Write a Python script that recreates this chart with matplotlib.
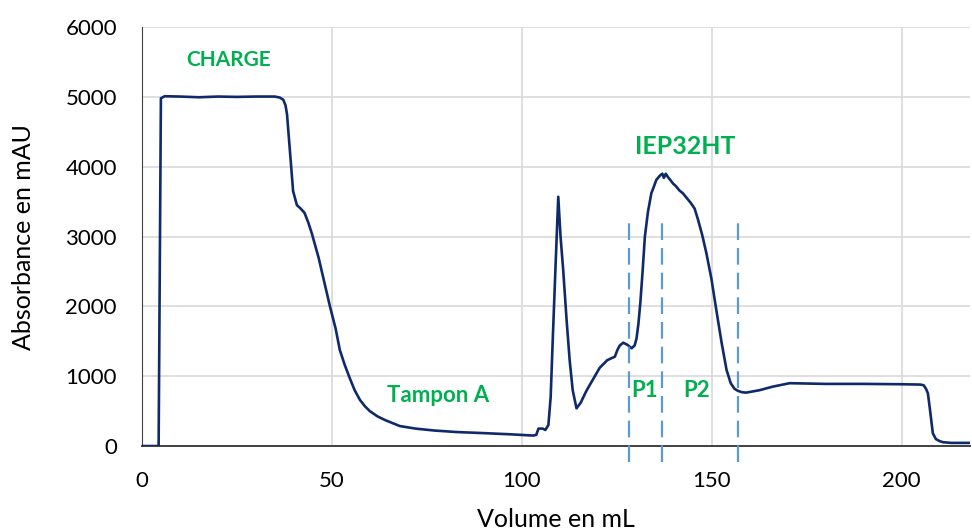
import matplotlib.pyplot as plt

# Chromatogramme - valeurs
volume_ml = [0, 4.4, 4.7, 5.0, 6, 10, 15, 20, 25, 30, 35, 36.3, 37.2, 37.8,
             38.2, 39.0, 39.8, 40.8, 41.8, 42.8, 43.8, 44.7, 46.5, 48.0, 49.5,
             51.0, 52.1, 53.4, 54.7, 56.0, 57.4, 58.7, 60.0, 62.0, 64.0, 67.9,
             72.0, 77.0, 83.0, 90.0, 97.0, 103.0, 103.8, 104.4, 105.5, 106.2,
             107.0, 107.6, 108.2, 108.9, 109.6, 110.2, 110.9, 111.8, 112.6,
             113.4, 114.4, 115.5, 117.0, 118.8, 120.5, 122.5, 124.5, 125.2,
             125.8, 126.7, 127.8, 128.9, 129.7, 130.2, 130.7, 131.2, 131.8,
             132.4, 133.2, 134.1, 134.8, 135.4, 136.0, 136.5, 137.0, 137.4,
             137.9, 138.5, 139.1, 139.8, 140.6, 141.5, 142.4, 143.3, 144.5,
             145.5, 146.4, 147.5, 148.6, 149.9, 151.2, 152.6, 153.9, 155.0,
             156.0, 156.9, 158.0, 159.1, 162.6, 166.0, 170.5, 180.0, 190.0,
             200.0, 205.0, 205.8, 206.4, 206.9, 207.5, 208.2, 209.0, 210.0,
             210.9, 213.0, 218.0]
absorbance_mau = [0, 0, 2500, 4980, 5010, 5005, 4995, 5005, 5000, 5005, 5005,
                  4990, 4960, 4880, 4750, 4200, 3650, 3450, 3400, 3340, 3200,
                  3050, 2700, 2350, 2000, 1680, 1375, 1160, 974, 800, 660, 570,
                  500, 425, 372, 286, 250, 222, 200, 185, 168, 150, 160, 250,
                  250, 230, 300, 700, 1600, 2600, 3570, 3000, 2520, 1800, 1230,
                  800, 540, 620, 790, 960, 1120, 1230, 1280, 1380, 1440, 1480,
                  1450, 1400, 1440, 1540, 1750, 2050, 2500, 3000, 3350, 3620,
                  3720, 3810, 3850, 3880, 3900, 3840, 3900, 3850, 3810, 3760,
                  3720, 3660, 3620, 3560, 3480, 3400, 3240, 3020, 2760, 2400,
                  1950, 1480, 1090, 900, 820, 790, 770, 765, 800, 850, 900, 890,
                  890, 885, 880, 870, 820, 755, 500, 183, 100, 70, 55, 45, 45]

# Limites des fractions
fraction_limits = [128.2, 136.8, 156.8]

annotations = [("CHARGE", 22.7, 5530, 15),
               ("IEP32HT", 143.0, 4290, 18),
               ("Tampon A", 77.9, 730, 16),
               ("P1", 132.3, 800, 16),
               ("P2", 146.0, 800, 16)]

plt.rcParams["font.family"] = ["Lato", "DejaVu Sans"]

fig = plt.figure(figsize=(9.72, 5.31), dpi=100)
ax = fig.add_axes([0.146, 0.16, 0.852, 0.789])

ax.plot(volume_ml, absorbance_mau, color="#0F2A6B", lw=1.9, zorder=3,
        solid_joinstyle="round")

for xv in fraction_limits:
    ax.plot([xv, xv], [-230, 3210], color="#5B9BD5", lw=1.6,
            dashes=(7.5, 3.6), clip_on=False, zorder=4)

for txt, xv, yv, fs in annotations:
    ax.text(xv, yv, txt, color="#00B050", fontsize=fs, fontweight="bold",
            ha="center", va="center", zorder=5)

ax.set_xlim(0, 218)
ax.set_ylim(0, 6000)
ax.set_xticks([0, 50, 100, 150, 200])
ax.set_yticks(range(0, 6001, 1000))
ax.grid(True, color="#D9D9D9", lw=1.2)
ax.set_axisbelow(True)
ax.tick_params(length=0, labelsize=16)
ax.tick_params(axis="x", pad=18)
ax.tick_params(axis="y", pad=18)
for s in ["top", "right"]:
    ax.spines[s].set_visible(False)
ax.spines["left"].set_color("#404040")
ax.spines["bottom"].set_color("#404040")
ax.spines["bottom"].set_linewidth(1.4)
ax.set_xlabel("Volume en mL", fontsize=18, labelpad=12)
ax.set_ylabel("Absorbance en mAU", fontsize=18, labelpad=22)

fig.savefig("out.png", dpi=100)
